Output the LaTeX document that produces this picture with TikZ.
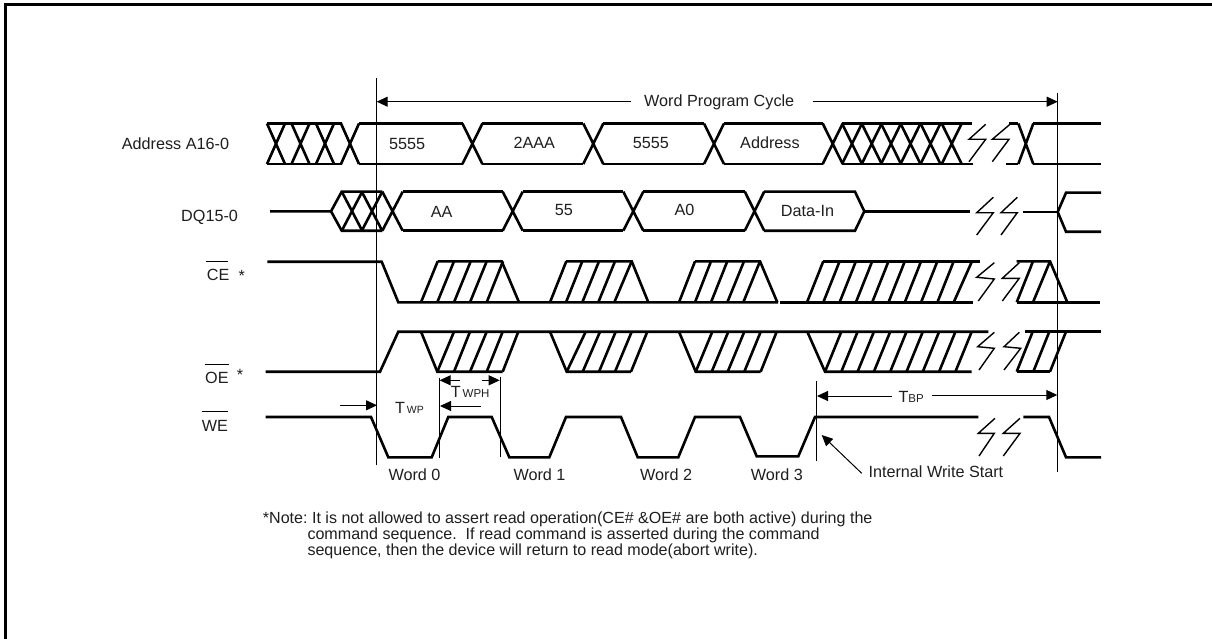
\documentclass[tikz,border=0pt]{standalone}
\usepackage{fontspec}
\setmainfont{Liberation Sans}
\usetikzlibrary{arrows.meta}
\newcommand{\fsz}[1]{\fontsize{#1}{#1}\selectfont}
\tikzset{
  sig/.style={line width=2.6pt,line join=miter,line cap=butt},
  brk/.style={line width=1.4pt,line join=miter},
  guide/.style={line width=0.9pt},
  dim/.style={line width=1pt,-{Triangle[length=11pt,width=10pt]}},
  lbl/.style={inner sep=0pt,anchor=base west,text=black!88,font=\frenchspacing\fsz{16.2}},
  notelbl/.style={lbl,font=\frenchspacing\fsz{16.08}},
}
% X crossing: centre, half width, top, bottom
\newcommand{\xcr}[4]{\draw[sig] (#1-#2,#3) -- (#1+#2,#4) (#1+#2,#3) -- (#1-#2,#4);}
\newcommand{\zig}[8]{\draw[brk] (#1,#2) -- (#3,#4) -- (#5,#6) -- (#7,#8);}
\begin{document}
\begin{tikzpicture}[x=1pt,y=-1pt]
\useasboundingbox (0,0) rectangle (1212,639);
\fill[white] (0,0) rectangle (1212,639);
% frame
\draw[line width=3pt] (5.5,639) -- (5.5,3.6);
\draw[line width=2.2pt] (4,4.6) -- (1212,4.6);
% guide lines
\coordinate (gl1) at (376.7,78);
\coordinate (gl2) at (376.7,465);
\coordinate (gr1) at (1057.7,93);
\coordinate (gr2) at (1057.7,472);
\draw[guide] (gl1) -- (gl2);
\draw[guide] (gr1) -- (gr2);
% Word Program Cycle
\node[lbl] (wpc) at (644,106.7) {Word Program Cycle};
\coordinate (wa) at (376.7,101.7);
\coordinate (wb) at (1057.7,101.7);
\draw[dim] (631,101.7) -- (wa);
\draw[dim] (813.3,101.7) -- (wb);
% Address bus
\def\T{123.5}\def\B{164}
\draw[sig] (267,\T) -- (341.7,\T) (267,\B) -- (341.7,\B);
\foreach \c in {276,300.5,325,350} {\xcr{\c}{9}{\T}{\B}}
\draw[sig] (358.5,\T) -- (462.7,\T) (358.5,\B) -- (462.7,\B);
\xcr{472.4}{10}{\T}{\B}
\draw[sig] (482.3,\T) -- (583.3,\T) (482.3,\B) -- (583.3,\B);
\xcr{593.3}{10}{\T}{\B}
\draw[sig] (603.3,\T) -- (704,\T) (603.3,\B) -- (704,\B);
\xcr{714}{10}{\T}{\B}
\draw[sig] (724,\T) -- (823,\T) (724,\B) -- (823,\B);
\foreach \c in {832.7,852,871.7,891,910.5,930.5,951.7} {\xcr{\c}{10}{\T}{\B}}
\draw[sig] (842,\T) -- (971.7,\T) (842,\B) -- (972.7,\B);
\zig{985.7}{124.3}{969}{139.3}{985.7}{139.3}{969}{161.7}
\zig{1010}{124.3}{992.3}{139.3}{1009}{139.3}{992.3}{161.7}
\draw[sig] (1009,\T) -- (1018.3,\T) (1005.7,\B) -- (1018.3,\B);
\xcr{1025.8}{7.5}{\T}{\B}
\draw[sig] (1033.3,\T) -- (1101,\T) (1033.3,\B) -- (1101,\B);
\node[lbl] (a1) at (389,149.3) {5555};
\node[lbl] (a2) at (513.3,148.3) {2AAA};
\node[lbl] (a3) at (632.7,148.3) {5555};
\node[lbl] (a4) at (740,148.3) {Address};
% DQ bus
\def\T{191.7}\def\B{230.7}\def\M{211.3}
\draw[sig] (270,\M) -- (331,\M) -- (341.7,\T) -- (382.3,\T) (331,\M) -- (341.7,\B) -- (382.3,\B);
\foreach \c in {352,372,392.5} {\xcr{\c}{10.2}{\T}{\B}}
\draw[sig] (402.7,\T) -- (502.7,\T) (402.7,\B) -- (502.7,\B);
\xcr{512.7}{10}{\T}{\B}
\draw[sig] (522.7,\T) -- (623.3,\T) (522.7,\B) -- (623.3,\B);
\xcr{633.3}{10}{\T}{\B}
\draw[sig] (643.3,\T) -- (745,\T) (643.3,\B) -- (745,\B);
\xcr{754.5}{9.7}{\T}{\B}
\draw[sig] (764,\T) -- (855,\T) -- (864.3,\M) -- (855,\B) -- (764,\B);
\draw[sig] (864.3,\M) -- (970,\M);
\zig{993.3}{197.3}{976.7}{212.7}{993.3}{212.7}{976.7}{235}
\zig{1017.3}{197.3}{1001}{212.7}{1017.3}{212.7}{1001}{235}
\draw[sig] (1022.7,212) -- (1057.7,212);
\draw[sig] (1101,192.7) -- (1066,192.7) -- (1057.7,212) -- (1066,231.7) -- (1101,231.7);
\node[lbl] (d1) at (430.7,217.3) {AA};
\node[lbl] (d2) at (554.7,215) {55};
\node[lbl] (d3) at (674.3,215) {A0};
\node[lbl] (d4) at (780.7,216.7) {Data-In};
% CE
\def\H{261.3}\def\L{302.3}
\draw[sig] (267.3,261.7) -- (381.7,261.7) -- (398.3,\L) -- (778,\L);
\draw[sig] (780,\L) -- (973.3,\L);
\draw[sig] (1016.7,\L) -- (1100,\L);
\foreach \a/\b in {421/437.7,437.3/454,454/470.7,470/486.7,486.7/503,550/566.3,566/582.3,582.3/599,598.3/615,614.3/631.7,679/695,695/711,711/727.3,727.3/744,743.3/760,
 807/823.3,823.3/839.6,839.6/855.9,855.9/872.2,872.2/888.5,888.5/904.8,904.8/921.1,921.1/937.4,937.4/953.7,953.7/972,1016.7/1033,1033/1050}
  {\draw[sig] (\a,\L) -- (\b,\H);}
\draw[sig] (437.7,\H) -- (501.7,\H) -- (519,\L);
\draw[sig] (566,\H) -- (631.7,\H) -- (648.3,\L);
\draw[sig] (695,\H) -- (760,\H) -- (777.3,\L);
\draw[sig] (823.3,\H) -- (980,\H);
\draw[sig] (1016.7,\H) -- (1050,\H) -- (1067.3,\L);
\zig{994.3}{262.7}{976.7}{277.3}{994.3}{279}{978.3}{301}
\zig{1019.3}{262.7}{1002.3}{278.3}{1019.3}{278.3}{1002.3}{301}
% OE
\def\H{331.7}\def\L{371.7}
\draw[sig] (265.7,\L) -- (380,\L) -- (398.3,\H) -- (988.3,\H);
\draw[sig] (1025,\H) -- (1101,\H);
\draw[sig] (421,\H) -- (437.3,\L) -- (502.7,\L);
\draw[sig] (550,\H) -- (566.7,\L) -- (631,\L);
\draw[sig] (679,\H) -- (695.7,\L) -- (760.7,\L);
\draw[sig] (807.3,\H) -- (825,\L) -- (971.7,\L);
\draw[sig] (1016.7,\L) -- (1050,\L);
\foreach \a/\b in {437.3/454,454/470,470/486.7,486.7/502.7,502.7/518.3,566.7/585.7,582.7/600,599/615.7,615/631.7,631/647.3,695.7/712.3,711.7/728.3,727.7/744.3,744.3/760.7,760.7/776.7,
 825/841.3,841.3/857.6,857.6/873.9,873.9/890.2,890.2/906.5,906.5/922.8,922.8/939.1,939.1/955.4,955.4/971.7,1016.7/1032.7,1033.3/1049.3,1050/1066}
  {\draw[sig] (\a,\L) -- (\b,\H);}
\zig{994.3}{332.3}{977.7}{346.7}{994.3}{348.3}{979}{370}
\zig{1019.3}{332.3}{1004}{346.7}{1020.7}{348.3}{1004}{370}
% WE
\def\H{417}\def\L{457.3}
\draw[sig] (265.7,\H) -- (371,\H) -- (388.3,\L) -- (431.7,\L) -- (448.3,\H) -- (491.7,\H) -- (509.3,\L) -- (549.3,\L) -- (566,\H) -- (621,\H) -- (637.7,\L) -- (678.3,\L) -- (695,\H) -- (740,\H) -- (756.7,456.3) -- (798.3,456.3) -- (815,\H) -- (978.3,\H);
\draw[sig] (1023.3,\H) -- (1049,\H) -- (1066,\L) -- (1101,\L);
\zig{995}{418.3}{978.3}{433.3}{994.3}{433.3}{979}{456}
\zig{1020}{418.3}{1003.3}{433.3}{1020}{433.3}{1003.3}{456}
% dims
\coordinate (v1a) at (439.3,378);\coordinate (v1b) at (439.3,458);
\coordinate (v2a) at (500,376.7);\coordinate (v2b) at (500,456.7);
\coordinate (v3a) at (816,381);\coordinate (v3b) at (816,461);
\draw[guide] (v1a) -- (v1b);
\draw[guide] (v2a) -- (v2b);
\draw[guide] (v3a) -- (v3b);
\draw[dim] (340,405.3) -- (377,405.3);
\draw[dim] (460,380.3) -- (439.6,380.3);
\draw[dim] (481.7,380.3) -- (499.7,380.3);
\draw[dim] (481,406) -- (440,406);
\draw[dim] (891.7,396) -- (817,396);
\draw[dim] (931.7,395) -- (1057.3,395);
\draw[dim] (861.7,473.3) -- (821.7,435);
% T labels
\node[lbl] (twp) at (395,413.3) {T\fsz{10.5}\,WP};
\node[lbl] (twph) at (450.7,397.7) {T\fsz{11.5}\,WPH};
\node[lbl] (tbp) at (898.3,402.3) {T\fsz{11.5}BP};
% left labels
\node[lbl] (l1) at (121.7,149.3) {Address A16-0};
\node[lbl] (l2) at (181,221) {DQ15-0};
\node[lbl] (l3) at (206.7,280.7) {CE};
\node[lbl] (l4) at (205,383.3) {OE};
\node[lbl] (l5) at (201.7,431) {WE};
\draw[guide] (206,261.3) -- (228.3,261.3);
\draw[guide] (205,364.3) -- (229,364.3);
\draw[guide] (201.7,411.7) -- (227.7,411.7);
\node[lbl,anchor=center] (s1) at (241.7,276) {*};
\node[lbl,anchor=center] (s2) at (240,375) {*};
% words
\node[lbl] (w0) at (388.3,480) {Word 0};
\node[lbl] (w1) at (513.3,480) {Word 1};
\node[lbl] (w2) at (640,480) {Word 2};
\node[lbl] (w3) at (750.7,480) {Word 3};
\node[lbl] (iws) at (868.3,477.7) {Internal Write Start};
% note
\node[notelbl] (n1) at (262.7,523.3) {*Note: It is not allowed to assert read operation(CE\# \&OE\# are both active) during the};
\node[notelbl] (n2) at (307.3,539) {command sequence.\ \ If read command is asserted during the command};
\node[notelbl] (n3) at (307.3,555) {sequence, then the device will return to read mode(abort write).};
\end{tikzpicture}
\end{document}
